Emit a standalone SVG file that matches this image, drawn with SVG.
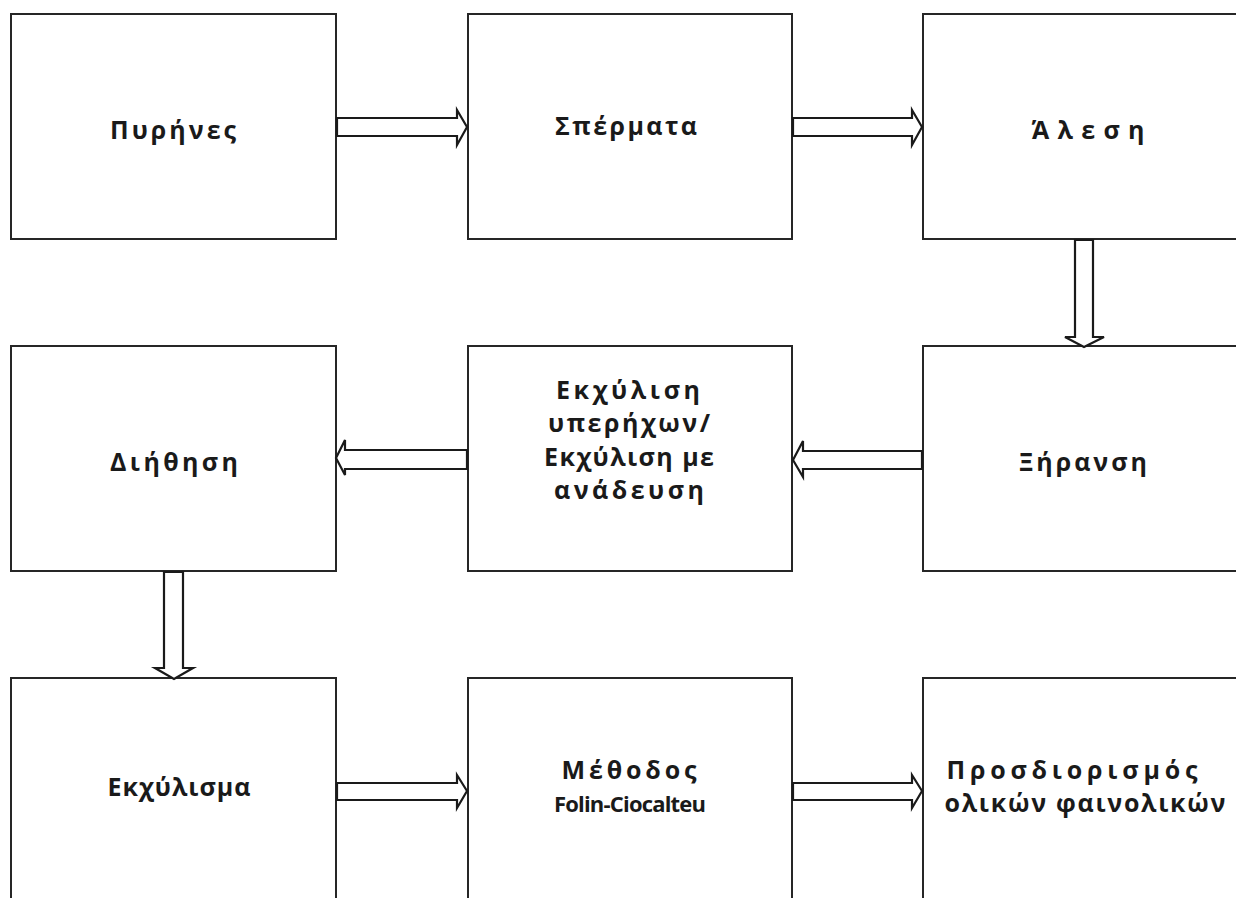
<svg xmlns="http://www.w3.org/2000/svg" width="1236" height="898" viewBox="0 0 1236 898">
<style>
.box{fill:#fff;stroke:#262626;stroke-width:2}
.arr{fill:#fff;stroke:#1a1a1a;stroke-width:2.2;stroke-linejoin:miter}
text{font-family:"Open Sans","Liberation Sans","DejaVu Sans",sans-serif;font-weight:bold;font-size:25px;fill:#1a1a1a;text-anchor:middle}
.lat{font-size:22px}
</style>
<rect width="1236" height="898" fill="#fff"/>
<g id="n1"><rect class="box" x="11" y="14" width="325" height="225"/><text x="173" y="139" textLength="126" lengthAdjust="spacing">Πυρήνες</text></g>
<g id="n2"><rect class="box" x="468" y="14" width="324" height="225"/><text x="626" y="135" textLength="142" lengthAdjust="spacing">Σπέρματα</text></g>
<g id="n3"><rect class="box" x="923" y="14" width="330" height="225"/><text x="1088" y="139" textLength="113" lengthAdjust="spacing">Άλεση</text></g>
<g id="n4"><rect class="box" x="923" y="346" width="330" height="225"/><text x="1083" y="471" textLength="128" lengthAdjust="spacing">Ξήρανση</text></g>
<g id="n5"><rect class="box" x="468" y="346" width="324" height="225"/>
<text x="628" y="399" textLength="144" lengthAdjust="spacing">Εκχύλιση</text>
<text x="629" y="432" textLength="162" lengthAdjust="spacing">υπερήχων/</text>
<text x="629" y="466" textLength="170" lengthAdjust="spacing">Εκχύλιση με</text>
<text x="629" y="499" textLength="150" lengthAdjust="spacing">ανάδευση</text></g>
<g id="n6"><rect class="box" x="11" y="346" width="325" height="225"/><text x="174" y="471" textLength="128" lengthAdjust="spacing">Διήθηση</text></g>
<g id="n7"><rect class="box" x="11" y="678" width="325" height="240"/><text x="179" y="796" textLength="143" lengthAdjust="spacing">Εκχύλισμα</text></g>
<g id="n8"><rect class="box" x="468" y="678" width="324" height="240"/>
<text x="629" y="779" textLength="135" lengthAdjust="spacing">Μέθοδος</text>
<text class="lat" x="630" y="812" textLength="152" lengthAdjust="spacing">Folin-Ciocalteu</text></g>
<g id="n9"><rect class="box" x="923" y="678" width="330" height="240"/>
<text x="1072" y="779" textLength="251" lengthAdjust="spacing">Προσδιορισμός</text>
<text x="1085" y="812" textLength="281" lengthAdjust="spacing">ολικών φαινολικών</text></g>
<g id="connectors">
<path class="arr" d="M337,118 H457 V110 L467,127 L457,145 V136 H337 Z"/>
<path class="arr" d="M793,118 H912 V110 L922,127 L912,145 V136 H793 Z"/>
<path class="arr" d="M1075,240 V337 H1065 L1084,347 L1104,337 H1093 V240 Z"/>
<path class="arr" d="M922,451 H803 V441 L793,460 L803,477 V469 H922 Z"/>
<path class="arr" d="M467,450 H345 V440 L336,458 L345,475 V469 H467 Z"/>
<path class="arr" d="M164,572 V668 H155 L174,679 L193,668 H183 V572 Z"/>
<path class="arr" d="M337,783 H457 V775 L467,791 L457,808 V800 H337 Z"/>
<path class="arr" d="M793,783 H912 V775 L922,791 L912,808 V800 H793 Z"/>
</g>
</svg>
